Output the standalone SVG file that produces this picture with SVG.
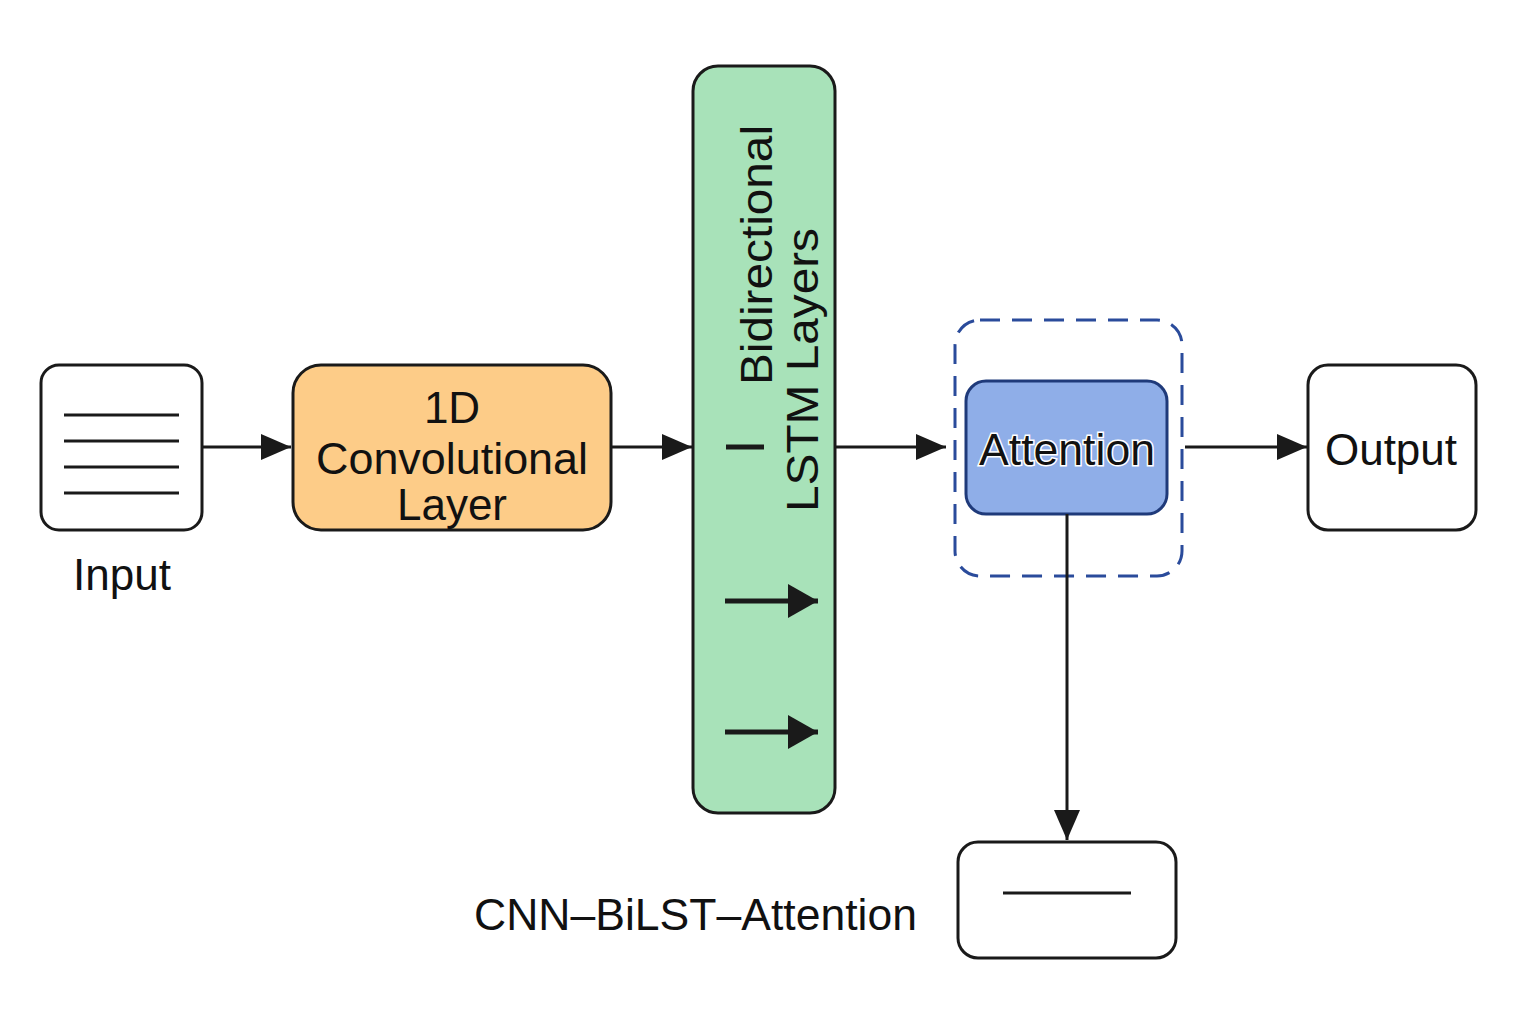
<svg xmlns="http://www.w3.org/2000/svg" width="1536" height="1024" viewBox="0 0 1536 1024">
<defs>
<marker id="ah" viewBox="0 0 30 26" refX="30" refY="13" markerWidth="30" markerHeight="26" markerUnits="userSpaceOnUse" orient="auto">
<path d="M0,0 L30,13 L0,26 Z" fill="#1a1a1a"/>
</marker>
<marker id="ahb" viewBox="0 0 30 34" refX="30" refY="17" markerWidth="30" markerHeight="34" markerUnits="userSpaceOnUse" orient="auto">
<path d="M0,0 L30,17 L0,34 Z" fill="#1a1a1a"/>
</marker>
</defs>
<style>
.box{stroke:#1a1a1a;stroke-width:3}
.t{font-family:"Liberation Sans",Arial,sans-serif;font-size:44px;fill:#111}
.c{text-anchor:middle}
.ln{stroke:#1a1a1a;stroke-width:3;fill:none}
.conn{stroke:#1a1a1a;stroke-width:3;fill:none;marker-end:url(#ah)}
</style>
<rect width="1536" height="1024" fill="#ffffff"/>

<g id="input">
<rect class="box" x="41" y="365" width="161" height="165" rx="18" fill="#ffffff"/>
<line class="ln" x1="64" y1="415" x2="179" y2="415"/>
<line class="ln" x1="64" y1="441" x2="179" y2="441"/>
<line class="ln" x1="64" y1="467" x2="179" y2="467"/>
<line class="ln" x1="64" y1="493" x2="179" y2="493"/>
<text class="t c" x="122" y="590">Input</text>
</g>

<g id="conv">
<rect class="box" x="293" y="365" width="318" height="165" rx="28" fill="#FDCC88"/>
<text class="t c" x="452" y="423">1D</text>
<text class="t c" x="452" y="474" textLength="272" lengthAdjust="spacingAndGlyphs">Convolutional</text>
<text class="t c" x="452" y="520">Layer</text>
</g>

<g id="bilstm">
<rect class="box" x="693" y="66" width="142" height="747" rx="25" fill="#A8E2B9"/>
<text class="t" font-size="46" transform="translate(772,385) rotate(-90)" textLength="260" lengthAdjust="spacingAndGlyphs">Bidirectional</text>
<text class="t" font-size="46" transform="translate(818,512) rotate(-90)" textLength="284" lengthAdjust="spacingAndGlyphs">LSTM Layers</text>
<line x1="726" y1="447" x2="764" y2="447" stroke="#1a1a1a" stroke-width="5"/>
<line x1="725" y1="601" x2="818" y2="601" stroke="#1a1a1a" stroke-width="5" marker-end="url(#ahb)"/>
<line x1="725" y1="732" x2="818" y2="732" stroke="#1a1a1a" stroke-width="5" marker-end="url(#ahb)"/>
</g>

<g id="attention-group">
<rect x="955" y="320" width="227" height="256" rx="25" fill="none" stroke="#2A4B9B" stroke-width="3" stroke-dasharray="20 12"/>
</g>

<g id="attention">
<rect x="966" y="381" width="201" height="133" rx="20" fill="#8FAEE8" stroke="#1F3A7A" stroke-width="3"/>
<text class="t c" x="1067" y="465" stroke="#ffffff" stroke-width="3" paint-order="stroke" textLength="176" lengthAdjust="spacingAndGlyphs">Attention</text>
</g>

<g id="output">
<rect class="box" x="1308" y="365" width="168" height="165" rx="20" fill="#ffffff"/>
<text class="t c" x="1391" y="465">Output</text>
</g>

<g id="result">
<rect class="box" x="958" y="842" width="218" height="116" rx="20" fill="#ffffff"/>
<line class="ln" x1="1003" y1="893" x2="1131" y2="893"/>
</g>

<g id="caption">
<text class="t" x="474" y="930" textLength="443" lengthAdjust="spacingAndGlyphs">CNN–BiLST–Attention</text>
</g>

<g id="connectors">
<line class="conn" x1="202" y1="447" x2="291" y2="447"/>
<line class="conn" x1="611" y1="447" x2="692" y2="447"/>
<line class="conn" x1="835" y1="447" x2="946" y2="447"/>
<line class="conn" x1="1185" y1="447" x2="1307" y2="447"/>
<line class="conn" x1="1067" y1="514" x2="1067" y2="840"/>
</g>
</svg>
